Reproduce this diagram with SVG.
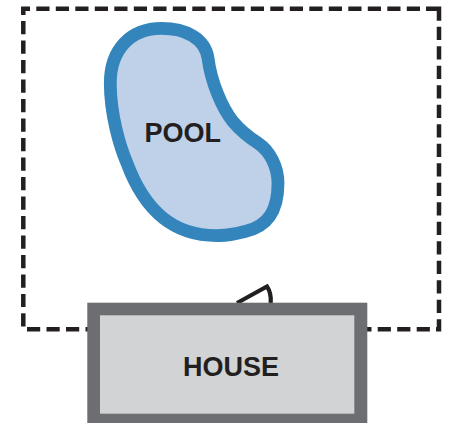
<svg xmlns="http://www.w3.org/2000/svg" width="450" height="423" viewBox="0 0 450 423">
<style>
.b{fill:none;stroke:#231f20;stroke-width:4.5}
.d{stroke-dasharray:13.2 6.3}
text{font-family:"Liberation Sans",Arial,sans-serif;font-weight:700;font-size:27px;fill:#231f20;text-anchor:middle}
</style>
<g id="connectors">
<path id="boundary-corner-tl" class="b" d="M30,8.7H23.3V15"/>
<path id="boundary-top" class="b d" d="M36.3,8.7H420"/>
<path id="boundary-corner-tr" class="b" d="M426,8.7H439V20.7"/>
<path id="boundary-left" class="b d" d="M23.3,21V307"/>
<path id="boundary-right" class="b d" d="M439,26.7V313.2"/>
<path id="boundary-corner-bl" class="b" d="M23.3,313.3V326.5"/>
<path id="boundary-corner-br" class="b" d="M436,329.3H439V319.3"/>
<path id="boundary-bottom" class="b d" d="M27,329.3H90"/>
<path id="boundary-bottom-r" class="b d" d="M365,329.3H371.5M377.7,329.3H430"/>
</g>
<g id="door"><path fill="none" stroke="#231f20" stroke-width="4.2" stroke-miterlimit="10" d="M237,303L267,286.5Q271.5,293 270.7,303"/></g>
<g id="pool">
<path fill="#bed1e8" stroke="#3485bc" stroke-width="12.8" d="M161.7,28.3C185,28.3 205,38 208,58C211,82 222,108 233,121.7C240,130 248,137 258.3,143.3C270,151 278,167 278,183.3C278,208 270,226 245,231.5C237,233.5 229,235.5 220,235.5C172,237 144,209 127,163.3C120,147 110.3,115 110.3,83C110.3,50 130,28.3 161.7,28.3Z"/>
<text x="182.8" y="141.7">POOL</text>
</g>
<g id="house">
<rect x="87.3" y="302.7" width="280" height="125" fill="#6d6e71"/>
<rect x="100" y="315.3" width="254.3" height="98.4" fill="#d1d3d4"/>
<text x="231" y="376">HOUSE</text>
</g>
</svg>
